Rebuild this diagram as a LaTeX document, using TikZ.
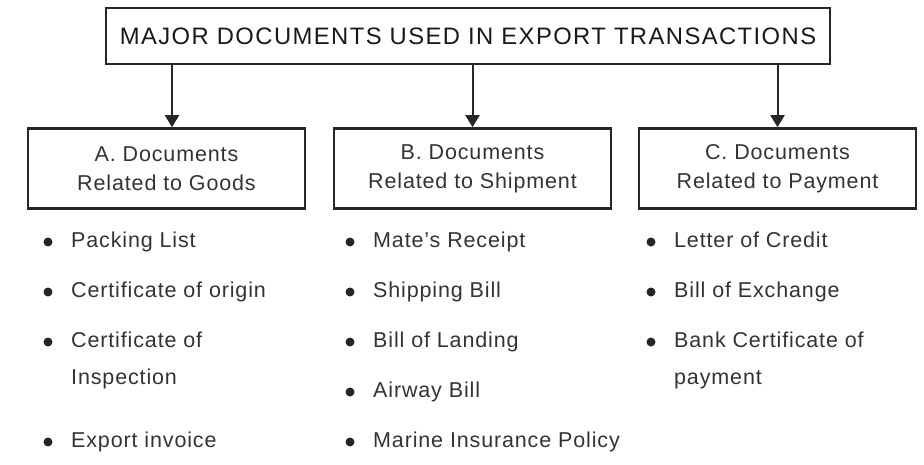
\documentclass[tikz,border=0pt]{standalone}
\usepackage{fontspec}
\setmainfont{Liberation Sans}[LetterSpace=4]
\newfontfamily\titlefont{Liberation Sans}[LetterSpace=6]
\usetikzlibrary{arrows.meta, positioning}

\begin{document}
\begin{tikzpicture}[x=1pt, y=-1pt, font=\fontsize{21.5}{29}\selectfont]
\useasboundingbox (0,0) rectangle (924,464);

\tikzset{
  titlebox/.style={draw=black!85, line width=2.6pt, minimum width=724pt,
                   minimum height=56pt, text=black!90,
                   font=\titlefont\fontsize{23.8}{28}\selectfont},
  docbox/.style={draw=black!85, line width=2.6pt, minimum width=277pt,
                 minimum height=80pt, align=center, text=black!80},
  item/.style={anchor=west, inner sep=0pt, text height=15pt,
               text depth=4.5pt, text=black!80},
  conn/.style={line width=2pt, draw=black!85,
               -{Triangle[length=12pt, width=14pt]}}
}

\node[titlebox] (title) at (468,36) {MAJOR DOCUMENTS USED IN EXPORT TRANSACTIONS};

\node[docbox] (goods)    at (166.5,168.5) {A. Documents\\Related to Goods};
\node[docbox] (shipment) at (472.5,168.5) {B. Documents\\Related to Shipment};
\node[docbox] (payment)  at (777.5,168.5) {C. Documents\\Related to Payment};

\coordinate (goodstop) at ([xshift=5.5pt]goods.north);
\draw[conn] (goodstop |- title.south) -- (goodstop);
\draw[conn] (shipment.north |- title.south) -- (shipment.north);
\draw[conn] (payment.north |- title.south) -- (payment.north);

% goods
\node[item] (g1)  at (71,242) {Packing List};
\node[item] (g2)  at (71,292) {Certificate of origin};
\node[item] (g3)  at (71,342) {Certificate of};
\node[item] (g3b) at (71,379) {Inspection};
\node[item] (g4)  at (71,442) {Export invoice};

% shipment
\node[item] (s1) at (373,242) {Mate's Receipt};
\node[item] (s2) at (373,292) {Shipping Bill};
\node[item] (s3) at (373,342) {Bill of Landing};
\node[item] (s4) at (373,392) {Airway Bill};
\node[item] (s5) at (373,442) {Marine Insurance Policy};

% payment
\node[item] (p1)  at (674,242) {Letter of Credit};
\node[item] (p2)  at (674,292) {Bill of Exchange};
\node[item] (p3)  at (674,342) {Bank Certificate of};
\node[item] (p3b) at (674,379) {payment};

\foreach \n in {g1,g2,g3,g4,s1,s2,s3,s4,s5,p1,p2,p3}
  \fill[black!85] ([xshift=-23pt]\n.west) circle (4.5pt);

\end{tikzpicture}
\end{document}
